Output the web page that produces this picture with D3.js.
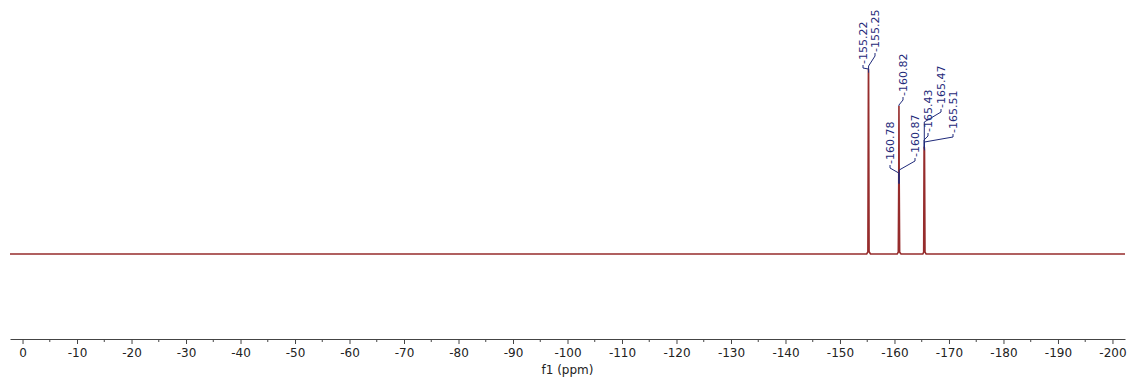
<!DOCTYPE html>
<html>
<head>
<meta charset="utf-8">
<script src="https://cdn.jsdelivr.net/npm/d3@7"></script>
<style>
  html, body { margin: 0; padding: 0; background: #ffffff; }
  svg { display: block; }
</style>
</head>
<body>
<svg id="chart" width="1129" height="381"></svg>
<script>
// ---------------- data ----------------
// spectrum trace (ppm, intensity)
const tracePpm = [2.3, -154.9, -155.12, -155.22, -155.25, -155.34, -155.6,
                  -160.5, -160.70, -160.78, -160.82, -160.87, -160.95, -161.2,
                  -165.2, -165.36, -165.43, -165.47, -165.51, -165.60, -165.8, -202.3];
const traceIntensity = [0, 0, 1.2, 100, 98, 1.2, 0,
                        0, 1.0, 38, 80, 38, 1.0, 0,
                        0, 1.0, 57, 58, 56, 1.0, 0, 0];

// labelled peaks
const peakPpm = [-155.22, -155.25, -160.78, -160.82, -160.87, -165.43, -165.47, -165.51];
const peakLabels = ["-155.22", "-155.25", "-160.78", "-160.82", "-160.87", "-165.43", "-165.47", "-165.51"];
const peakIntensity = [100, 98, 38, 80, 38, 57, 58, 56];

// axis ticks
const majorTicks = [0, -10, -20, -30, -40, -50, -60, -70, -80, -90, -100, -110, -120, -130, -140, -150, -160, -170, -180, -190, -200];
const tickLabels = ["0", "-10", "-20", "-30", "-40", "-50", "-60", "-70", "-80", "-90", "-100", "-110", "-120", "-130", "-140", "-150", "-160", "-170", "-180", "-190", "-200"];
const minorTicks = [-5, -15, -25, -35, -45, -55, -65, -75, -85, -95, -105, -115, -125, -135, -145, -155, -165, -175, -185, -195];
const axisTitle = "f1 (ppm)";

// ---------------- layout (positions / styles) ----------------
// label placement: screen x of label, bottom y of label text, elbow y at the peak
const labelLayout = [
  { lx: 863, bottom: 65, elbow: 69 },
  { lx: 875, bottom: 53, elbow: 66 },
  { lx: 890, bottom: 165, elbow: 173 },
  { lx: 903, bottom: 97, elbow: 105 },
  { lx: 915, bottom: 158, elbow: 170 },
  { lx: 928, bottom: 133, elbow: 140 },
  { lx: 941, bottom: 109, elbow: 122 },
  { lx: 953, bottom: 134, elbow: 142 }
];

const svg = d3.select("#chart");
const x = d3.scaleLinear().domain([2.3, -202.3]).range([10, 1125]);
const y = d3.scaleLinear().domain([0, 100]).range([254, 69]);

const axisY = 339;
const spectrumColor = "#962c2c";
const labelColor = "#1f2a7a";
const axisColor = "#444";
const font = "Tahoma, Verdana, DejaVu Sans, sans-serif";

// spectrum
const pts = tracePpm.map((p, i) => [p, traceIntensity[i]]);
svg.append("path")
  .datum(pts)
  .attr("fill", "none")
  .attr("stroke", spectrumColor)
  .attr("stroke-width", 1.6)
  .attr("stroke-linejoin", "miter")
  .attr("d", d3.line().x(d => x(d[0])).y(d => y(d[1])));

// axis
const axis = d3.axisBottom(x)
  .tickValues(majorTicks)
  .tickFormat((d, i) => tickLabels[i])
  .tickSize(5)
  .tickSizeOuter(0);
const gAxis = svg.append("g").attr("transform", `translate(0,${axisY})`).call(axis);
gAxis.select(".domain").attr("stroke", axisColor).attr("stroke-width", 1);
gAxis.selectAll(".tick line").attr("stroke", axisColor).attr("stroke-width", 1);
gAxis.selectAll(".tick text")
  .attr("fill", "#222")
  .attr("font-family", font)
  .attr("font-size", 12)
  .attr("dy", "0.85em");

svg.append("g").selectAll("line")
  .data(minorTicks).join("line")
  .attr("x1", d => x(d)).attr("x2", d => x(d))
  .attr("y1", axisY).attr("y2", axisY + 3)
  .attr("stroke", axisColor).attr("stroke-width", 1);

svg.append("text")
  .attr("x", x(-100))
  .attr("y", axisY + 35)
  .attr("text-anchor", "middle")
  .attr("font-family", font)
  .attr("font-size", 12)
  .attr("fill", "#222")
  .text(axisTitle);

// peak labels and connectors
const gLab = svg.append("g");
peakPpm.forEach((p, i) => {
  const L = labelLayout[i];
  const px = x(p);
  const py = y(peakIntensity[i]);
  gLab.append("path")
    .attr("fill", "none")
    .attr("stroke", labelColor)
    .attr("stroke-width", 1)
    .attr("d", `M${L.lx},${L.bottom} L${L.lx},${L.bottom + 3} L${px},${L.elbow} L${px},${Math.max(py, L.elbow)}`);
  gLab.append("text")
    .attr("transform", `translate(${L.lx},${L.bottom - 1}) rotate(-90)`)
    .attr("dy", "0.35em")
    .attr("text-anchor", "start")
    .attr("font-family", font)
    .attr("font-size", 11)
    .attr("fill", labelColor)
    .text(peakLabels[i]);
});
</script>
</body>
</html>
